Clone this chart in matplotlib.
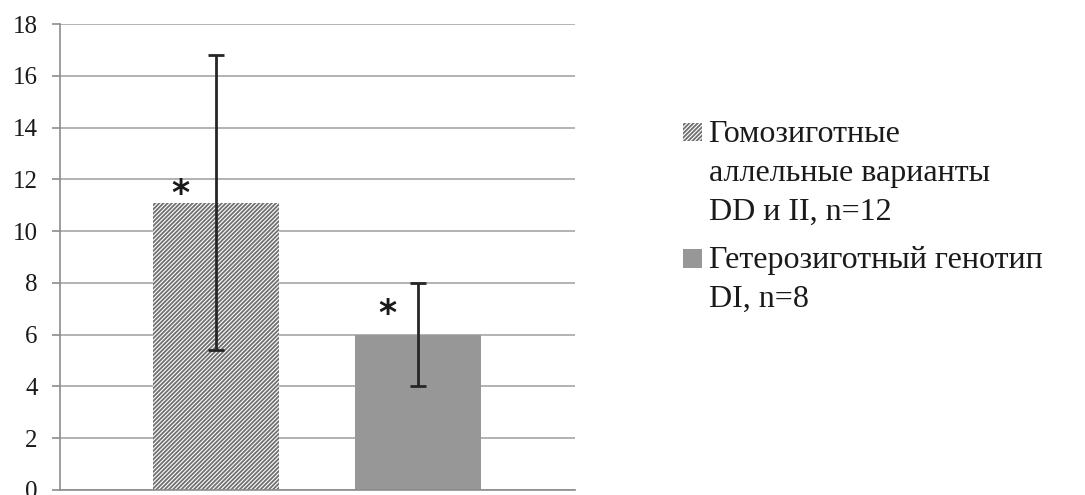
import matplotlib
matplotlib.use("Agg")
import matplotlib.pyplot as plt
from matplotlib.patches import Rectangle
from matplotlib.legend_handler import HandlerPatch

plt.rcParams['font.family'] = ['Liberation Serif', 'DejaVu Serif']
plt.rcParams['hatch.linewidth'] = 1.3

series_labels = ["Гомозиготные\nаллельные варианты\nDD и II, n=12",
                 "Гетерозиготный генотип\nDI, n=8"]
values = [11.1, 6.0]
err_low = [5.4, 4.0]
err_high = [16.8, 8.0]
star_y = [11.45, 6.8]
yticks = [0, 2, 4, 6, 8, 10, 12, 14, 16, 18]

fig = plt.figure(figsize=(10.85, 4.95), dpi=100)
ax = fig.add_axes([60/1085, 5/495, 515/1085, 466/495])

positions = [-0.394, 0.39]
width = 0.49
star_dx = [-0.14, -0.12]
ax.set_axisbelow(True)
ax.yaxis.grid(True, color='#a6a6a6', linewidth=1.2)

b1 = ax.bar(positions[0], values[0], width=width, facecolor='white',
            edgecolor='#707070', linewidth=0, hatch='////////')
b2 = ax.bar(positions[1], values[1], width=width, color='#979797',
            linewidth=0)

for i in range(2):
    lo = values[i] - err_low[i]
    hi = err_high[i] - values[i]
    ax.errorbar(positions[i], values[i], yerr=[[lo], [hi]], fmt='none',
                ecolor='#262626', elinewidth=2, capsize=6, capthick=2)
    ax.text(positions[i] + star_dx[i], star_y[i], '*', fontsize=25, ha='center',
            va='center', color='#1a1a1a', family='DejaVu Sans', fontweight='bold')

ax.set_xlim(-1, 1)
ax.set_ylim(0, 18)
ax.set_yticks(yticks)
ax.set_xticks([])
for s in ['top', 'right']:
    ax.spines[s].set_visible(False)
ax.spines['left'].set_color('#8c8c8c')
ax.spines['bottom'].set_color('#8c8c8c')
ax.spines['left'].set_linewidth(1.2)
ax.spines['bottom'].set_linewidth(1.2)
ax.tick_params(axis='y', length=6, width=1.2, color='#8c8c8c', pad=10,
               labelsize=18, labelcolor='#1a1a1a')

LEG_FS = 23
LINE_STEP_PT = 28.5


def make_handler(nlines):
    shift = (nlines - 1) / 2 * LINE_STEP_PT

    def patch_func(legend, orig_handle, xdescent, ydescent, width, height, fontsize):
        return Rectangle((-xdescent, -ydescent + shift + 1), width, height)
    return HandlerPatch(patch_func=patch_func)


h1, h2 = b1.patches[0], b2.patches[0]
leg = fig.legend(handles=[h1, h2], labels=series_labels, loc='upper left',
                 bbox_to_anchor=(683/1085, 1 - 120/495), frameon=False,
                 fontsize=LEG_FS, handlelength=0.6, handleheight=0.52,
                 handletextpad=0.2, labelspacing=0.6, borderpad=0,
                 borderaxespad=0,
                 handler_map={h1: make_handler(3), h2: make_handler(2)})
for t in leg.get_texts():
    t.set_color('#1a1a1a')
    t.set_linespacing(1.45)

fig.savefig('out.png', dpi=100, facecolor='white')
